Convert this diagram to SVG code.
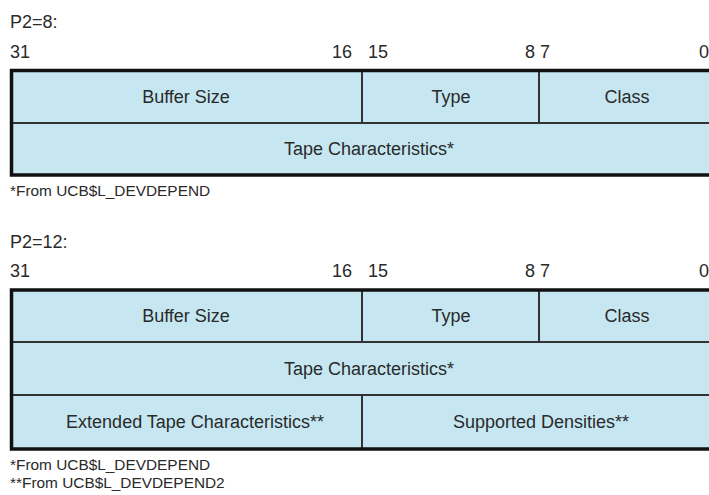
<svg xmlns="http://www.w3.org/2000/svg" width="709" height="495" viewBox="0 0 709 495">
  <style>
    text { font-family: "Liberation Sans", Arial, sans-serif; fill: #2a2a2a; }
    .title { font-size: 18px; }
    .bit { font-size: 18px; }
    .field { font-size: 18px; text-anchor: middle; }
    .note { font-size: 15.4px; }
    .cell { fill: #c6e7f2; stroke: none; }
    .div { stroke: #333; stroke-width: 2; fill: none; }
    .frame { fill: none; stroke: #111; stroke-width: 3.5; }
  </style>

  <!-- P2=8 layout: two longwords -->
  <g id="p2-8">
    <text class="title" x="10" y="28">P2=8:</text>
    <g id="p2-8-bits">
      <text class="bit" x="10" y="58">31</text>
      <text class="bit" x="352" y="58" text-anchor="end">16</text>
      <text class="bit" x="368" y="58">15</text>
      <text class="bit" x="535" y="58" text-anchor="end">8</text>
      <text class="bit" x="540" y="58">7</text>
      <text class="bit" x="699" y="58">0</text>
    </g>
    <rect class="cell" x="11.5" y="70.5" width="705" height="104.5"/>
    <g id="p2-8-dividers">
      <line class="div" x1="11.5" y1="123" x2="716.5" y2="123"/>
      <line class="div" x1="362" y1="70.5" x2="362" y2="123"/>
      <line class="div" x1="539" y1="70.5" x2="539" y2="123"/>
    </g>
    <rect class="frame" x="11.5" y="70.5" width="705" height="104.5"/>
    <g id="p2-8-buffer-size"><text class="field" x="186" y="103">Buffer Size</text></g>
    <g id="p2-8-type"><text class="field" x="451" y="103">Type</text></g>
    <g id="p2-8-class"><text class="field" x="627" y="103">Class</text></g>
    <g id="p2-8-tape-char"><text class="field" x="369" y="155">Tape Characteristics*</text></g>
    <text class="note" x="10" y="196">*From UCB$L_DEVDEPEND</text>
  </g>

  <!-- P2=12 layout: three longwords -->
  <g id="p2-12">
    <text class="title" x="10" y="248">P2=12:</text>
    <g id="p2-12-bits">
      <text class="bit" x="10" y="277">31</text>
      <text class="bit" x="352" y="277" text-anchor="end">16</text>
      <text class="bit" x="368" y="277">15</text>
      <text class="bit" x="535" y="277" text-anchor="end">8</text>
      <text class="bit" x="540" y="277">7</text>
      <text class="bit" x="699" y="277">0</text>
    </g>
    <rect class="cell" x="11.5" y="290" width="705" height="159"/>
    <g id="p2-12-dividers">
      <line class="div" x1="11.5" y1="342" x2="716.5" y2="342"/>
      <line class="div" x1="11.5" y1="395" x2="716.5" y2="395"/>
      <line class="div" x1="362" y1="290" x2="362" y2="342"/>
      <line class="div" x1="539" y1="290" x2="539" y2="342"/>
      <line class="div" x1="362" y1="395" x2="362" y2="449"/>
    </g>
    <rect class="frame" x="11.5" y="290" width="705" height="159"/>
    <g id="p2-12-buffer-size"><text class="field" x="186" y="322">Buffer Size</text></g>
    <g id="p2-12-type"><text class="field" x="451" y="322">Type</text></g>
    <g id="p2-12-class"><text class="field" x="627" y="322">Class</text></g>
    <g id="p2-12-tape-char"><text class="field" x="369" y="375">Tape Characteristics*</text></g>
    <g id="p2-12-ext-tape-char"><text class="field" x="195" y="428">Extended Tape Characteristics**</text></g>
    <g id="p2-12-densities"><text class="field" x="541" y="428">Supported Densities**</text></g>
    <text class="note" x="10" y="470">*From UCB$L_DEVDEPEND</text>
    <text class="note" x="10" y="488">**From UCB$L_DEVDEPEND2</text>
  </g>
</svg>
